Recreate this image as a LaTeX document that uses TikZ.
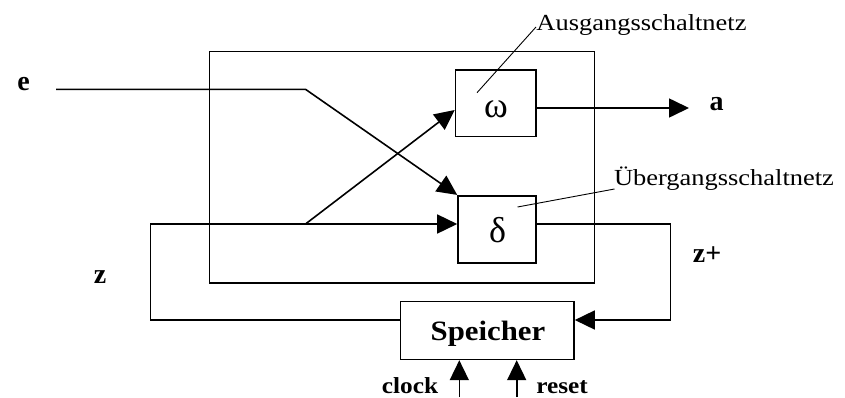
\documentclass[tikz,border=0pt]{standalone}
\usepackage{fontspec}
\setmainfont{Liberation Serif}
\usetikzlibrary{arrows.meta,calc}
\newcommand{\hstr}[2]{\scalebox{#1}[1]{#2}}
\begin{document}
\begin{tikzpicture}[x=1pt,y=-1pt,
  line width=1.6pt,
  blk/.style={draw,line width=1.6pt,inner sep=0pt},
  arr/.style={-{Triangle[length=20pt,width=19pt]}},
  lbl/.style={font=\fontsize{28}{32}\selectfont\bfseries,inner sep=0pt,anchor=base},
  sml/.style={font=\fontsize{23}{27}\selectfont\bfseries,inner sep=0pt,anchor=base},
  reg/.style={font=\fontsize{23}{27}\selectfont,inner sep=0pt,anchor=base},
  greek/.style={font=\fontsize{36}{40}\selectfont,inner sep=0pt},
  leader/.style={line width=0.9pt}]
\useasboundingbox (0,0) rectangle (845,397);
% blocks
\node[blk,minimum width=385pt,minimum height=231.5pt,anchor=north west] (outer) at (208.5,50.5) {};
\node[blk,minimum width=80.5pt,minimum height=66.6pt] (om) at (495.75,103) {};
\node[greek] (omg) at (496,109) {ω};
\node[blk,minimum width=78pt,minimum height=67pt] (de) at (497,229.2) {};
\node[greek] (deg) at (497.5,230) {δ};
\node[blk,minimum width=173.5pt,minimum height=58pt] (sp) at (487.25,330.4) {};
\node[lbl] (spt) at (488,340) {\hstr{1.1}{Speicher}};
% labels
\node[lbl] (le) at (23.5,90) {e};
\node[lbl] (la) at (716.5,110) {a};
\node[lbl] (lz) at (100,283) {z};
\node[lbl] (lzp) at (707,262) {z+};
\node[sml] (lclk) at (410,393) {\hstr{1.1}{clock}};
\node[sml] (lrst) at (562,393) {\hstr{1.1}{reset}};
\node[reg] (aus) at (641.5,30) {\hstr{1.15}{Ausgangsschaltnetz}};
\node[reg] (ueb) at (724,185) {\hstr{1.15}{Übergangsschaltnetz}};
% coordinates
\coordinate (ein) at (56,89.3);
\coordinate (ek) at (305.5,89.3);
\coordinate (zb) at (305.5,224);
\coordinate (zul) at (150.5,224);
\coordinate (zll) at (150.5,320);
\coordinate (zr) at (670.5,224);
\coordinate (zrl) at (670.5,320);
\coordinate (aout) at (689,108);
\coordinate (clkb) at (459.3,397);
\coordinate (rstb) at (516.7,397);
\coordinate (ausl) at (477,92.7);
\coordinate (uebl) at (517.5,207);
% connectors
\draw[arr] (ein) -- (ek) -- (de.north west);
\draw[arr] (sp.west |- zll) -- (zll) -- (zul) -- (zul -| de.west);
\draw[arr] (zb) -- ([yshift=-7pt]om.west);
\draw[arr] ([yshift=-5pt]om.east) -- (aout);
\draw[arr] (zr -| de.east) -- (zr) -- (zrl) -- (zrl -| sp.east);
\draw[arr] (clkb) -- (clkb |- sp.south);
\draw[arr] (rstb) -- (rstb |- sp.south);
\draw[leader] (ausl) -- (536,27);
\draw[leader] (uebl) -- (614.5,189);
\end{tikzpicture}
\end{document}
